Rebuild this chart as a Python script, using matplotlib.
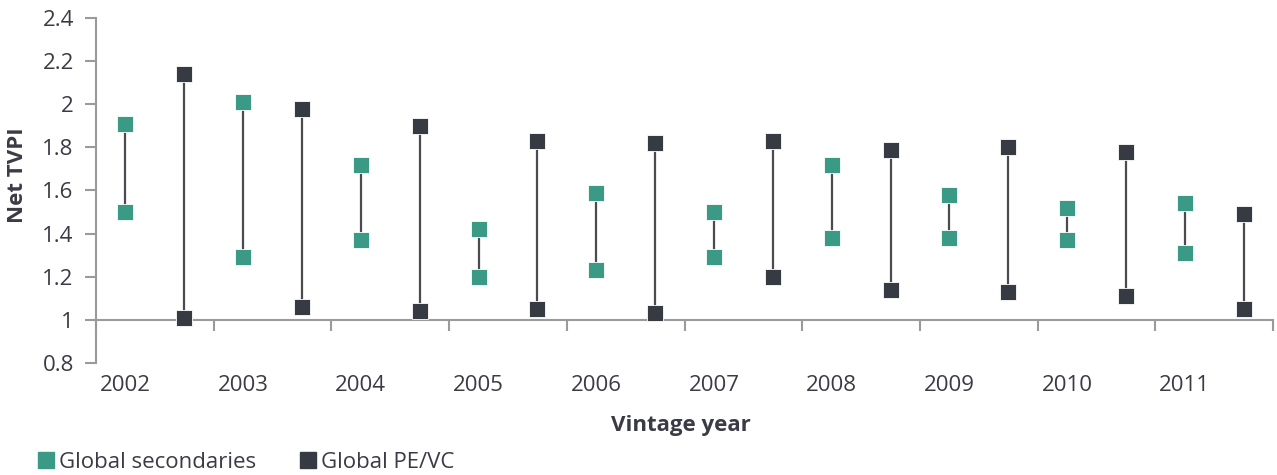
import numpy as np
import matplotlib.pyplot as plt
from matplotlib.lines import Line2D
from matplotlib import transforms

plt.rcParams['font.family'] = ['Open Sans', 'DejaVu Sans']

years = ['2002', '2003', '2004', '2005', '2006', '2007', '2008', '2009', '2010', '2011']
sec_high = [1.91, 2.01, 1.72, 1.42, 1.59, 1.50, 1.72, 1.58, 1.52, 1.54]
sec_low = [1.50, 1.29, 1.37, 1.20, 1.23, 1.29, 1.38, 1.38, 1.37, 1.31]
pe_high = [2.14, 1.98, 1.90, 1.83, 1.82, 1.83, 1.79, 1.80, 1.78, 1.49]
pe_low = [1.01, 1.06, 1.04, 1.05, 1.03, 1.20, 1.14, 1.13, 1.11, 1.05]

teal = '#3a9a85'
dark = '#363a42'
txt = '#3a3b44'
axis_gray = '#9a9a9a'

fig = plt.figure(figsize=(12.77, 4.75), dpi=100)
ax = fig.add_axes([0.0752, 0.2358, 0.9217, 0.7263])

n = len(years)
x_sec = np.arange(n) * 2
x_pe = np.arange(n) * 2 + 1

# connectors
for xs, hi, lo in [(x_sec, sec_high, sec_low), (x_pe, pe_high, pe_low)]:
    ax.vlines(xs, lo, hi, color='#4a4a50', lw=1.6, zorder=2)

ms = 11.5
ax.plot(x_sec, sec_high, 's', color=teal, ms=ms, mec='white', mew=0.6, zorder=3)
ax.plot(x_sec, sec_low, 's', color=teal, ms=ms, mec='white', mew=0.6, zorder=3)
ax.plot(x_pe, pe_high, 's', color=dark, ms=ms, mec='white', mew=0.6, zorder=3)
ax.plot(x_pe, pe_low, 's', color=dark, ms=ms, mec='white', mew=0.6, zorder=3)

ax.set_xlim(-0.5, 2 * n - 0.5)
ax.set_ylim(0.8, 2.4)
ax.set_yticks([0.8, 1.0, 1.2, 1.4, 1.6, 1.8, 2.0, 2.2, 2.4])
ax.set_yticklabels(['0.8', '1', '1.2', '1.4', '1.6', '1.8', '2', '2.2', '2.4'])

for s in ['top', 'right']:
    ax.spines[s].set_visible(False)
ax.spines['left'].set_color(axis_gray)
ax.spines['left'].set_linewidth(1.5)
ax.spines['bottom'].set_color(axis_gray)
ax.spines['bottom'].set_linewidth(1.5)
ax.spines['bottom'].set_position(('data', 1.0))

ax.set_xticks(np.arange(-0.5, 2 * n, 2))
ax.set_xticklabels([])
ax.tick_params(axis='x', direction='out', length=8, width=1.5, color=axis_gray)
ax.tick_params(axis='y', direction='out', length=8, width=1.5, color=axis_gray,
               labelsize=16, labelcolor=txt, pad=8)

# year labels sit below the plot area
trans = transforms.blended_transform_factory(ax.transData, ax.transAxes)
for xi, yr in zip(x_sec, years):
    ax.text(xi, -0.065, yr, transform=trans, ha='center', va='center',
            fontsize=16, color=txt)

fig.text(0.014, 0.632, 'Net TVPI', rotation=90, ha='center', va='center',
         fontsize=16, fontweight='bold', color=txt)
fig.text(0.533, 0.105, 'Vintage year', ha='center', va='center',
         fontsize=16, fontweight='bold', color=txt)

handles = [Line2D([], [], ls='none', marker='s', ms=12, color=teal),
           Line2D([], [], ls='none', marker='s', ms=12, color=dark)]
fig.legend(handles, ['Global secondaries', 'Global PE/VC'], loc='lower left',
           bbox_to_anchor=(0.010, -0.037), ncol=2, frameon=False, fontsize=16,
           handletextpad=0.0, columnspacing=1.72, handlelength=1.2,
           labelcolor=txt)

fig.savefig('out.png', dpi=100)
